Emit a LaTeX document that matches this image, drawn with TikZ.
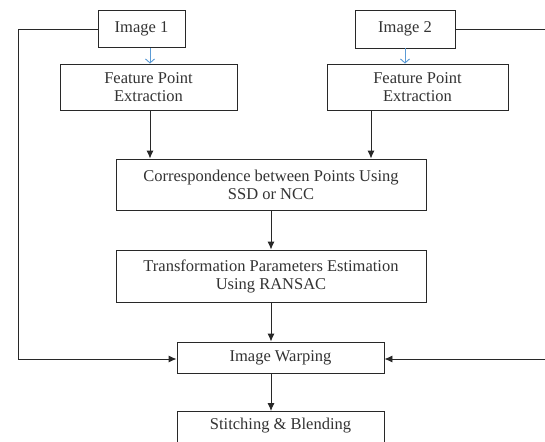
\documentclass[tikz,border=0pt]{standalone}
\usepackage{fontspec}
\setmainfont{Liberation Serif}
\usetikzlibrary{arrows.meta}
\definecolor{lineblk}{RGB}{40,40,40}
\definecolor{arrblue}{RGB}{91,155,213}
\begin{document}
\begin{tikzpicture}[x=1pt,y=-1pt,
  box/.style={draw=lineblk,line width=0.9pt,fill=white,inner sep=0pt,align=center,
    font=\fontsize{16.5}{18}\selectfont,text=black!80},
  conn/.style={draw=lineblk,line width=0.9pt,-{Latex[length=8pt,width=7pt]}},
  blueconn/.style={draw=arrblue,line width=0.9pt,-{Straight Barb[length=4pt,width=9pt]}}]
\clip (0,0) rectangle (545,441);
\fill[white] (0,0) rectangle (545,441);
\node[box,minimum width=87pt,minimum height=37pt] (img1) at (141.5,29) {Image 1};
\node[box,minimum width=100pt,minimum height=38pt] (img2) at (405,29) {Image 2};
\node[box,minimum width=177pt,minimum height=46pt] (fp1) at (148.5,87) {Feature Point\\Extraction};
\node[box,minimum width=181pt,minimum height=46pt] (fp2) at (417.5,87) {Feature Point\\Extraction};
\node[box,minimum width=310pt,minimum height=51pt] (corr) at (271,184.5) {Correspondence between Points Using\\SSD or NCC};
\node[box,minimum width=310pt,minimum height=52pt] (trans) at (271,276) {Transformation Parameters Estimation\\Using RANSAC};
\node[box,minimum width=207pt,minimum height=31pt] (warp) at (280.5,357.5) {Image Warping};
\node[box,minimum width=207pt,minimum height=50pt,anchor=north] (stitch) at (280.5,411) {};
\node[font=\fontsize{16.5}{18}\selectfont,text=black!80] (stitchtxt) at (280.5,426) {Stitching \& Blending};
\coordinate (lt) at (18,29);
\coordinate (lb) at (18,359);
\coordinate (rt) at (548,29);
\coordinate (rb) at (548,359);
\draw[blueconn] (img1.south -| 150,0) -- (fp1.north -| 150,0);
\draw[blueconn] (img2.south) -- (fp2.north -| img2.south);
\draw[conn] (fp1.south -| 150,0) -- (corr.north -| 150,0);
\draw[conn] (fp2.south -| 371,0) -- (corr.north -| 371,0);
\draw[conn] (corr.south) -- (trans.south |- trans.north);
\draw[conn] (trans.south) -- (warp.north -| trans.south);
\draw[conn] (warp.south -| trans.south) -- (stitch.north -| trans.south);
\draw[conn] (img1.west) -- (lt) -- (lb) -- (lb -| warp.west);
\draw[conn] (img2.east) -- (rt) -- (rb) -- (rb -| warp.east);
\end{tikzpicture}
\end{document}
